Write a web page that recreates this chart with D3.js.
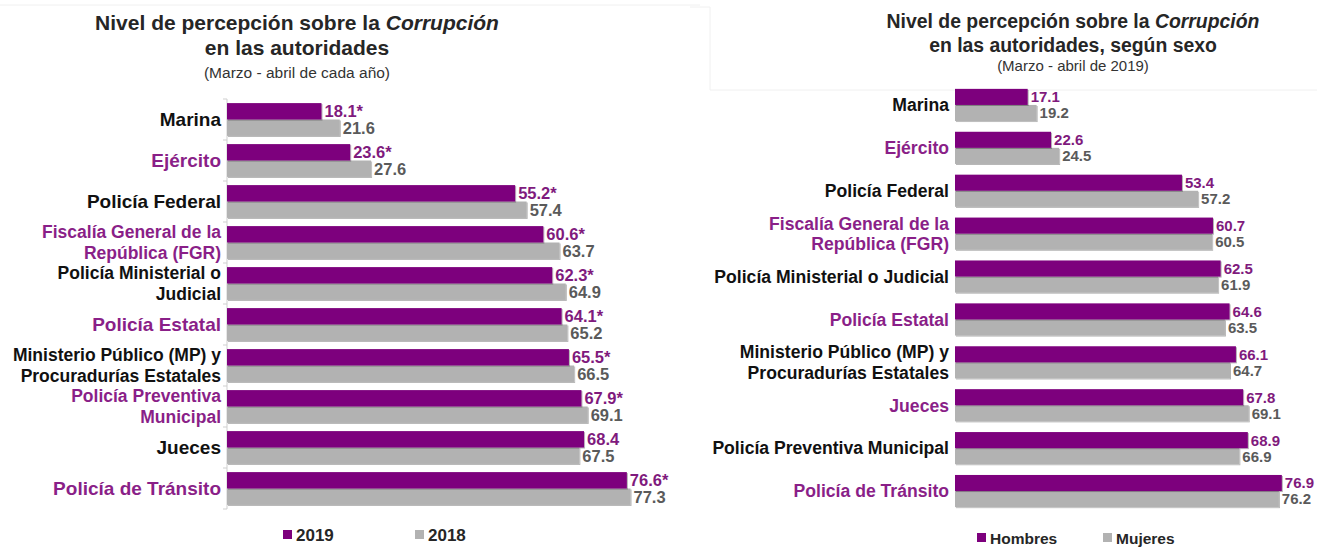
<!DOCTYPE html>
<html>
<head>
<meta charset="utf-8">
<script src="https://cdn.jsdelivr.net/npm/d3@7"></script>
<style>
body { margin: 0; background: #fff; }
svg { display: block; font-family: "Liberation Sans", Arial, sans-serif; }
</style>
</head>
<body>
<div id="chart"></div>
<script>
var w = 1317,
	h = 547;

// left chart: by year
var yearCategories = ["Marina", "Ejército", "Policía Federal", "Fiscalía General de la|República (FGR)",
	"Policía Ministerial o|Judicial", "Policía Estatal", "Ministerio Público (MP) y|Procuradurías Estatales",
	"Policía Preventiva|Municipal", "Jueces", "Policía de Tránsito"];
var values2019 = [18.1, 23.6, 55.2, 60.6, 62.3, 64.1, 65.5, 67.9, 68.4, 76.6];
var values2018 = [21.6, 27.6, 57.4, 63.7, 64.9, 65.2, 66.5, 69.1, 67.5, 77.3];
var signif2019 = [true, true, true, true, true, true, true, true, false, true];
var yearSeries = ["2019", "2018"];

// right chart: by sex
var sexCategories = ["Marina", "Ejército", "Policía Federal", "Fiscalía General de la|República (FGR)",
	"Policía Ministerial o Judicial", "Policía Estatal", "Ministerio Público (MP) y|Procuradurías Estatales",
	"Jueces", "Policía Preventiva Municipal", "Policía de Tránsito"];
var valuesHombres = [17.1, 22.6, 53.4, 60.7, 62.5, 64.6, 66.1, 67.8, 68.9, 76.9];
var valuesMujeres = [19.2, 24.5, 57.2, 60.5, 61.9, 63.5, 64.7, 69.1, 66.9, 76.2];
var sexSeries = ["Hombres", "Mujeres"];

var purple = "#7d007d",
	purpleText = "#8a1f88",
	purpleValue = "#7f1a7d",
	grey = "#b2b2b2",
	greyValue = "#5a5a5a";

var root = d3.select("#chart").append("svg").attr("width", w).attr("height", h);

var defs = root.append("defs");
defs.append("filter").attr("id", "shadow").attr("x", "-5%").attr("y", "-20%").attr("width", "110%").attr("height", "160%")
	.append("feDropShadow").attr("dx", 1).attr("dy", 1).attr("stdDeviation", 0.7)
	.attr("flood-color", "#000").attr("flood-opacity", 0.3);

// faint slide frames
root.append("line").attr("x1", 0).attr("x2", 700).attr("y1", 5).attr("y2", 5).style("stroke", "#f0f0f0");
root.append("polyline").attr("points", "690,7 710,7 710,90 1317,90").style("fill", "none").style("stroke", "#f0f0f0");

drawPanel({
	cx: 297,
	titleSize: 21,
	titleY: [30, 55],
	title2: "en las autoridades",
	subtitle: "(Marzo - abril de cada año)",
	subSize: 15.5,
	subY: 78,
	cats: yearCategories,
	a: values2019,
	b: values2018,
	star: signif2019,
	axisX: 227,
	unit: 5.22,
	top: 99,
	step: 41,
	pad: 0.2,
	catSize: 19,
	catSize2: 17.5,
	lineH: 21,
	valSize: 16.5,
	showAxis: true,
	series: yearSeries,
	legendX: [283, 415],
	legendY: 535,
	legendSize: 17
});

drawPanel({
	cx: 1073,
	titleSize: 19.4,
	titleY: [28, 52],
	title2: "en las autoridades, según sexo",
	subtitle: "(Marzo - abril de 2019)",
	subSize: 15,
	subY: 71,
	cats: sexCategories,
	a: valuesHombres,
	b: valuesMujeres,
	star: null,
	axisX: 955,
	unit: 4.25,
	top: 83.5,
	step: 42.9,
	pad: 0.25,
	catSize: 17.6,
	catSize2: 17.6,
	lineH: 21,
	valSize: 15,
	showAxis: false,
	series: sexSeries,
	legendX: [977, 1103],
	legendY: 538,
	legendSize: 15.5
});

function drawPanel(o) {
	var g = root.append("g");

	// title
	var t1 = g.append("text").attr("x", o.cx).attr("y", o.titleY[0]).attr("text-anchor", "middle")
		.style("font-size", o.titleSize + "px").style("font-weight", "bold").style("fill", "#262626");
	t1.append("tspan").text("Nivel de percepción sobre la ");
	t1.append("tspan").style("font-style", "italic").text("Corrupción");
	g.append("text").attr("x", o.cx).attr("y", o.titleY[1]).attr("text-anchor", "middle")
		.style("font-size", o.titleSize + "px").style("font-weight", "bold").style("fill", "#262626")
		.text(o.title2);
	g.append("text").attr("x", o.cx).attr("y", o.subY).attr("text-anchor", "middle")
		.style("font-size", o.subSize + "px").style("fill", "#333")
		.text(o.subtitle);

	var n = o.cats.length;
	var x = d3.scaleLinear().domain([0, 100]).range([o.axisX, o.axisX + 100 * o.unit]);
	var y = d3.scaleBand().domain(d3.range(n)).range([o.top, o.top + n * o.step]).paddingInner(o.pad).paddingOuter(o.pad / 2);
	var ys = d3.scaleBand().domain([0, 1]).range([0, y.bandwidth()]);

	if (o.showAxis) {
		g.append("line").attr("x1", o.axisX).attr("x2", o.axisX).attr("y1", o.top).attr("y2", o.top + n * o.step)
			.style("stroke", "#cfcfcf").style("stroke-width", 1);
		g.selectAll(".tick").data(d3.range(n + 1)).enter().append("line")
			.attr("x1", o.axisX - 4).attr("x2", o.axisX)
			.attr("y1", function(d) { return o.top + d * o.step; })
			.attr("y2", function(d) { return o.top + d * o.step; })
			.style("stroke", "#cfcfcf");
	}

	var rows = d3.range(n).map(function(i) {
		return { i: i, cat: o.cats[i], a: o.a[i], b: o.b[i], star: o.star ? o.star[i] : false };
	});

	var row = g.selectAll(".row").data(rows).enter().append("g")
		.attr("transform", function(d) { return "translate(0," + y(d.i) + ")"; });

	row.append("rect").attr("x", o.axisX).attr("y", ys(1)).attr("height", ys.bandwidth())
		.attr("width", function(d) { return x(d.b) - o.axisX; })
		.style("fill", grey).attr("filter", "url(#shadow)");
	row.append("rect").attr("x", o.axisX).attr("y", ys(0)).attr("height", ys.bandwidth())
		.attr("width", function(d) { return x(d.a) - o.axisX; })
		.style("fill", purple).attr("filter", "url(#shadow)");

	row.append("text").attr("x", function(d) { return x(d.a) + 3; })
		.attr("y", ys(0) + ys.bandwidth() / 2).attr("dy", "0.36em")
		.style("font-size", o.valSize + "px").style("font-weight", "bold").style("fill", purpleValue)
		.text(function(d) { return d.a.toFixed(1) + (d.star ? "*" : ""); });
	row.append("text").attr("x", function(d) { return x(d.b) + 3; })
		.attr("y", ys(1) + ys.bandwidth() / 2).attr("dy", "0.36em")
		.style("font-size", o.valSize + "px").style("font-weight", "bold").style("fill", greyValue)
		.text(function(d) { return d.b.toFixed(1); });

	// category labels, alternating black / purple
	row.each(function(d) {
		var lines = d.cat.split("|");
		var size = lines.length > 1 ? o.catSize2 : o.catSize;
		var mid = y.bandwidth() / 2;
		var label = d3.select(this).append("text").attr("text-anchor", "end")
			.style("font-size", size + "px").style("font-weight", "bold")
			.style("fill", d.i % 2 ? purpleText : "#111");
		lines.forEach(function(l, k) {
			label.append("tspan").attr("x", o.axisX - 6)
				.attr("y", mid + (k - (lines.length - 1) / 2) * o.lineH)
				.attr("dy", "0.36em").text(l);
		});
	});

	// legend
	var colors = [purple, grey];
	o.series.forEach(function(s, k) {
		g.append("rect").attr("x", o.legendX[k]).attr("y", o.legendY - 5).attr("width", 9).attr("height", 9)
			.style("fill", colors[k]);
		g.append("text").attr("x", o.legendX[k] + 13).attr("y", o.legendY).attr("dy", "0.36em")
			.style("font-size", o.legendSize + "px").style("font-weight", "bold").style("fill", "#262626")
			.text(s);
	});
}
</script>
</body>
</html>
